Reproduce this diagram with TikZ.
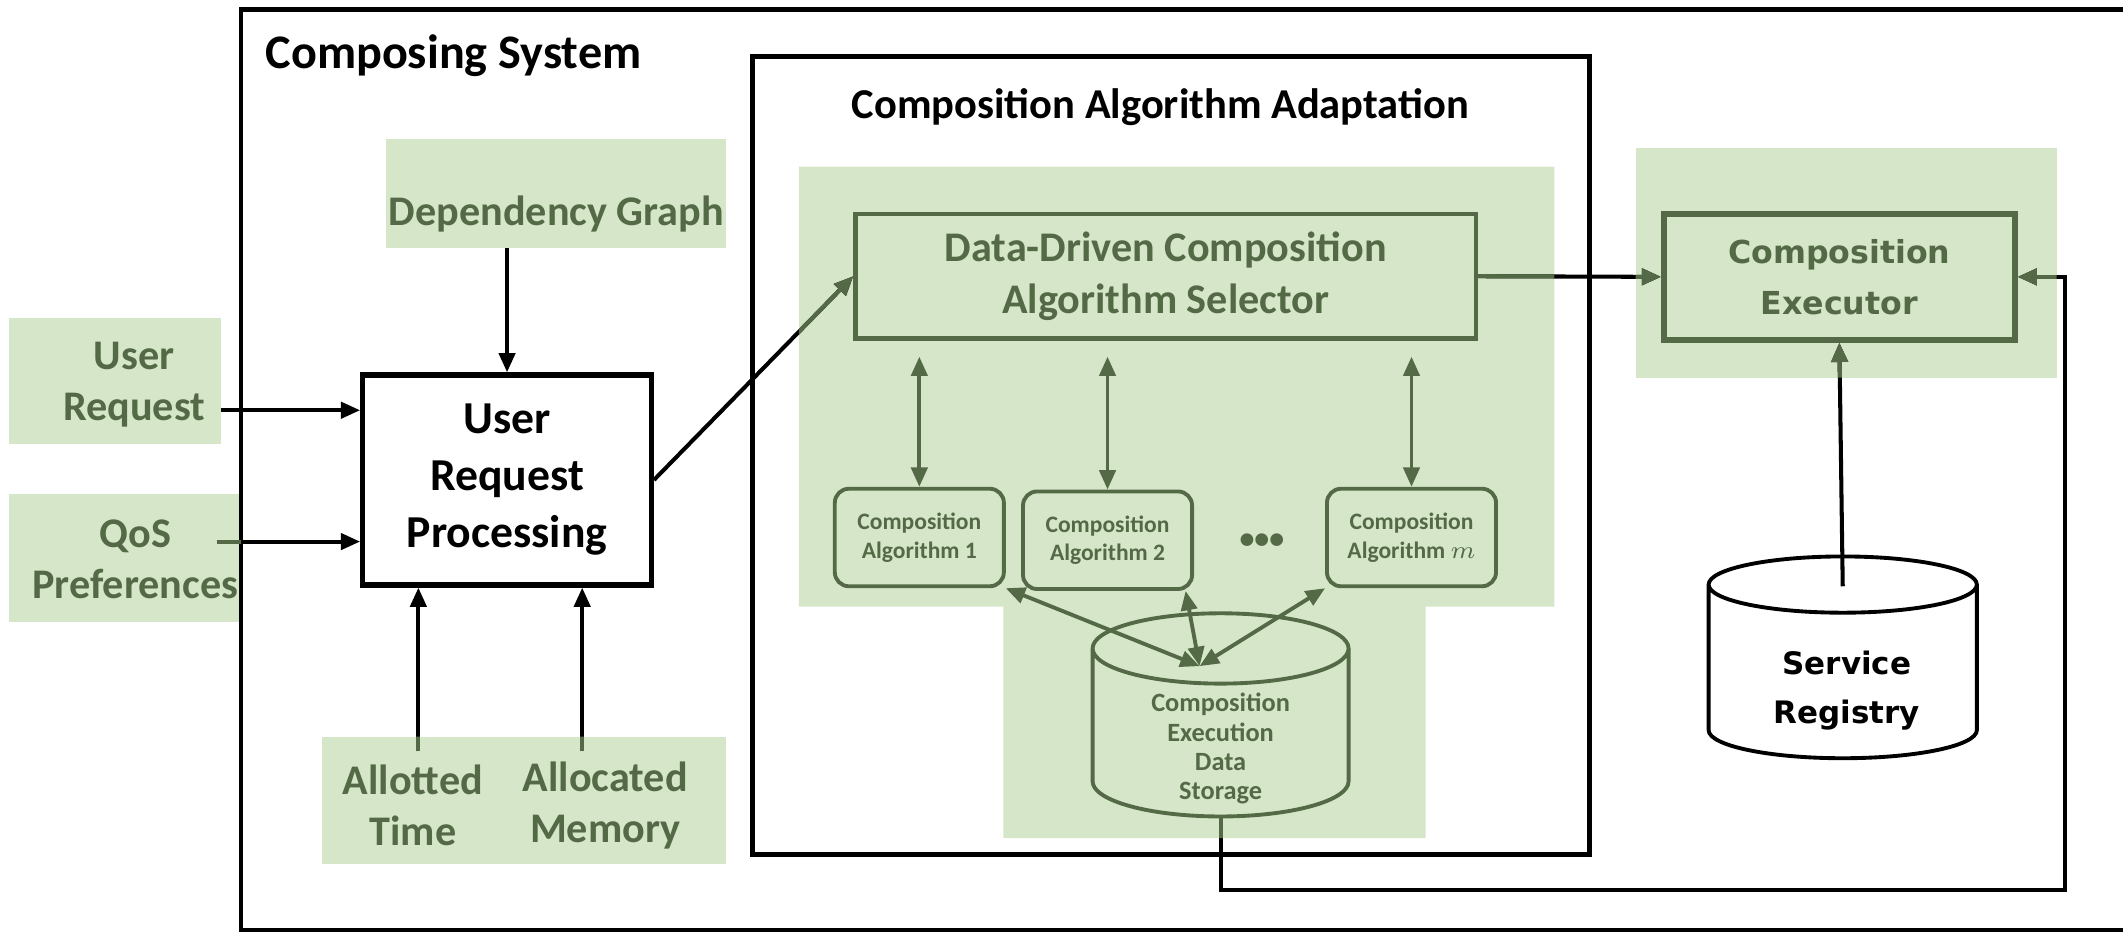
\documentclass[tikz,border=0pt]{standalone}
\usepackage{fontspec}
\setmainfont{Carlito}
\newfontfamily\widefont{DejaVu Sans}
\usetikzlibrary{arrows.meta,shapes.geometric}

\definecolor{leaf}{RGB}{213,231,200}
\definecolor{moss}{RGB}{84,106,71}

\tikzset{
  pad/.style={fill=leaf,inner sep=0pt},
  greentxt/.style={text=moss,align=center,font=\fontsize{12}{14.6}\selectfont\bfseries},
  wire/.style={line width=1.15pt,-{Triangle[length=5.5pt,width=4.6pt]}},
  both/.style={line width=1.1pt,{Triangle[length=5.5pt,width=4.6pt]}-{Triangle[length=5.5pt,width=4.6pt]}},
  algbox/.style={draw=moss,line width=1.1pt,rounded corners=4pt,minimum width=1.69cm,minimum height=0.975cm,
    text=moss,align=center,font=\fontsize{6.7}{8.1}\selectfont\bfseries},
  greenbox/.style={draw=moss,line width=1.3pt,text=moss,align=center},
  store/.style={cylinder,shape border rotate=90,anchor=shape center,draw=#1,line width=1.1pt}
}

% connectors that run in and out of the shaded areas
\newcommand{\wires}{%
  \draw[wire] (qosout) -- (qosout -| urp.west);
  \draw[wire] (timeout) -- (timeout |- urp.south);
  \draw[wire] (memout) -- (memout |- urp.south);
  \draw[wire] (urp.east) -- (sel.west);
  \draw[wire] (sel.east) -- (exec.west);
  \draw[wire] (regtop) -- (exec.south);
  \draw[wire] (storage.south) |- (loop) |- (exec.east);
}

\begin{document}
\begin{tikzpicture}[x=0.01354cm,y=-0.01354cm]
\useasboundingbox (0,0) rectangle (1568,689);

% shaded areas
\node[pad,minimum width=2.112cm,minimum height=1.259cm] (ureq) at (85,281.5) {};
\node[pad,minimum width=2.315cm,minimum height=1.273cm] (qos) at (92.5,412) {};
\node[pad,minimum width=3.399cm,minimum height=1.083cm] (dep) at (410.5,143) {};
\node[pad,minimum width=4.035cm,minimum height=1.273cm] (res) at (387,591) {};
\fill[leaf] (590,123) rectangle (1148,448) (741,440) rectangle (1053,619);
\fill[leaf] (1208,109) rectangle (1519,279);

% texts on the left
\node[greentxt] (ureqtxt) at (99,284) {User\\Request};
\node[greentxt] (qostxt) at (100,413) {QoS\\Preferences};
\node[greentxt] (deptxt) at (411,158) {Dependency Graph};
\node[greentxt] (timetxt) at (305,595) {Allotted\\Time};
\node[greentxt] (memtxt) at (447,595) {Allocated\\Memory};

% frames
\draw[line width=1.2pt] (178,7) rectangle (1600,687);
\draw[line width=1.4pt] (556,42) rectangle (1174,631);
\node[anchor=west,font=\fontsize{13.7}{16}\selectfont\bfseries] (systitle) at (187,41) {Composing System};
\node[font=\fontsize{12.1}{14}\selectfont\bfseries] (adtitle) at (857,79) {Composition Algorithm Adaptation};

\node[draw,line width=1.5pt,fill=white,minimum width=2.884cm,minimum height=2.099cm,align=center,
  font=\fontsize{13}{16.2}\selectfont\bfseries] (urp) at (374.5,354.5) {User\\Request\\Processing};

\node[greenbox,minimum width=6.201cm,minimum height=1.246cm,font=\fontsize{12}{14.6}\selectfont\bfseries]
  (sel) at (861,204) {Data-Driven Composition\\Algorithm Selector};
\node[greenbox,line width=1.6pt,minimum width=3.507cm,minimum height=1.259cm,
  font=\widefont\fontsize{9}{14.6}\selectfont\bfseries] (exec) at (1358.5,204.5) {Composition\\Executor};

\node[algbox] (alg1) at (679,397) {Composition\\Algorithm 1};
\node[algbox] (alg2) at (818,399) {Composition\\Algorithm 2};
\node[algbox] (algm) at (1042.5,397) {Composition\\Algorithm $m$};
\node[text=moss,font=\fontsize{8.5}{10}\selectfont\bfseries] (dots) at (932,400) {\textbullet\textbullet\textbullet};

\node[store=moss,aspect=3,minimum width=2.559cm,minimum height=2.031cm] (storage) at (901.5,528) {};
\node[text=moss,align=center,font=\fontsize{7.5}{8.3}\selectfont\bfseries] (storetxt) at (901.5,553)
  {Composition\\Execution\\Data\\Storage};
\node[store=black,fill=white,aspect=2.4,minimum width=2.681cm,minimum height=2.017cm] (reg) at (1361,485.5) {};
\node[align=center,font=\widefont\fontsize{8.8}{13.9}\selectfont\bfseries] (regtxt) at (1364,510) {Service\\Registry};

\coordinate (qosout) at (160,400);
\coordinate (timeout) at (309,555);
\coordinate (memout) at (430,555);
\coordinate (regtop) at (1361,433);
\coordinate (loop) at (1525,657);
\coordinate (hub) at (886,492);

\draw[wire] (ureq.east |- 0,303) -- (urp.west |- 0,303);
\draw[wire] (dep.south -| urp.north) -- (urp.north);
\wires
\begin{scope}
  \clip (7,235) rectangle (163,328) (7,365) rectangle (178,459) (238,544) rectangle (536,638)
    (590,123) rectangle (1148,448) (741,440) rectangle (1053,619) (1208,109) rectangle (1519,279);
  \begin{scope}[moss]
    \wires
  \end{scope}
\end{scope}

\foreach \a in {alg1,alg2,algm}
  \draw[both,moss,shorten >=4.5pt] (\a.north) -- (\a.north |- sel.south);
\draw[both,moss] (alg1.south east) -- (hub);
\draw[both,moss] (alg2.-33) -- (hub);
\draw[both,moss] (algm.south west) -- (hub);
\end{tikzpicture}
\end{document}
